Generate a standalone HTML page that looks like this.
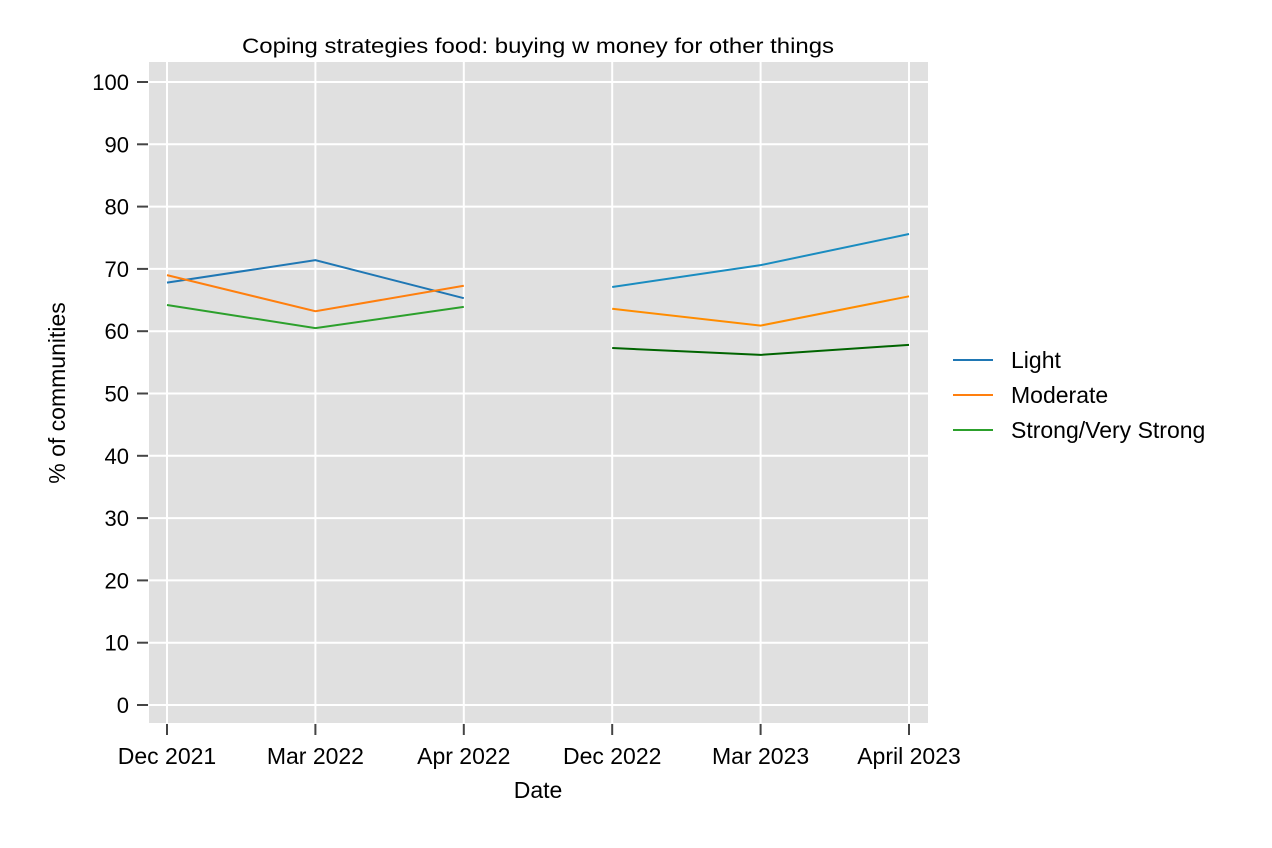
<!DOCTYPE html>
<html><head><meta charset="utf-8"><style>
body{margin:0;background:#fff;}
svg{display:block;font-family:"Liberation Sans",Arial,sans-serif;}
</style></head><body>
<svg id="chart" width="1272" height="848"></svg>
<script>
const categories=["Dec 2021","Mar 2022","Apr 2022","Dec 2022","Mar 2023","April 2023"];
const lightSeg1=[67.8,71.4,65.3];
const lightSeg2=[67.1,70.6,75.6];
const moderateSeg1=[69.0,63.2,67.3];
const moderateSeg2=[63.6,60.9,65.6];
const strongSeg1=[64.2,60.5,63.9];
const strongSeg2=[57.3,56.2,57.8];
const yTicks=[0,10,20,30,40,50,60,70,80,90,100];

const NS="http://www.w3.org/2000/svg";
const svg=document.getElementById('chart');
function mk(tag,attrs,parent){const e=document.createElementNS(NS,tag);for(const k in attrs)e.setAttribute(k,attrs[k]);(parent||svg).appendChild(e);return e;}
const X0=149,X1=928,Y0=62,Y1=723;
function xs(i){return 167+i*148.4;}
function ys(v){return 705-v*6.23;}

const bg=mk('rect',{x:X0,y:Y0,width:X1-X0,height:Y1-Y0,fill:'#e0e0e0'});


yTicks.forEach(t=>{
  const g=mk('line',{x1:X0,x2:X1,y1:ys(t),y2:ys(t),stroke:'#fff','stroke-width':2});
  
  
  mk('line',{x1:137,x2:148,y1:ys(t),y2:ys(t),stroke:'#444','stroke-width':2});
  const tx=mk('text',{x:129,y:ys(t)+8,'text-anchor':'end','font-size':22});
  tx.textContent=t;
  
  
});
categories.forEach((c,i)=>{
  const g=mk('line',{x1:xs(i),x2:xs(i),y1:Y0,y2:Y1,stroke:'#fff','stroke-width':2});
  
  
  mk('line',{x1:xs(i),x2:xs(i),y1:Y1+1,y2:Y1+12,stroke:'#444','stroke-width':2});
  const tx=mk('text',{x:xs(i),y:764,'text-anchor':'middle','font-size':23});
  tx.textContent=c;
  
  
});

function series(vals,off,color,name){
  const pts=vals.map((v,i)=>xs(i+off)+','+ys(v)).join(' ');
  const p=mk('polyline',{points:pts,fill:'none',stroke:color,'stroke-width':2});
  
  
}
series(lightSeg1,0,'#1f77b4','light-line-2022');
series(moderateSeg1,0,'#ff7f0e','moderate-line-2022');
series(strongSeg1,0,'#2ca02c','strong-line-2022');
series(lightSeg2,3,'#1a8cc0','light-line-2023');
series(moderateSeg2,3,'#ff8c00','moderate-line-2023');
series(strongSeg2,3,'#006400','strong-line-2023');

const title=mk('text',{x:242,y:53,'font-size':21,textLength:592,lengthAdjust:'spacingAndGlyphs'});
title.textContent='Coping strategies food: buying w money for other things';


const xt=mk('text',{x:538,y:798,'text-anchor':'middle','font-size':23});
xt.textContent='Date';


const yt=mk('text',{x:0,y:0,'text-anchor':'middle','font-size':23,transform:'translate(65,393) rotate(-90)'});
yt.textContent='% of communities';



const legend=[['Light','#1f77b4',360],['Moderate','#ff7f0e',395],['Strong/Very Strong','#2ca02c',430]];
legend.forEach(l=>{
  const g=mk('g',{});
  
  
  mk('line',{x1:953,x2:993,y1:l[2],y2:l[2],stroke:l[1],'stroke-width':2},g);
  const t=mk('text',{x:1011,y:l[2]+8,'font-size':23},g);
  t.textContent=l[0];
});
</script>
</body></html>
